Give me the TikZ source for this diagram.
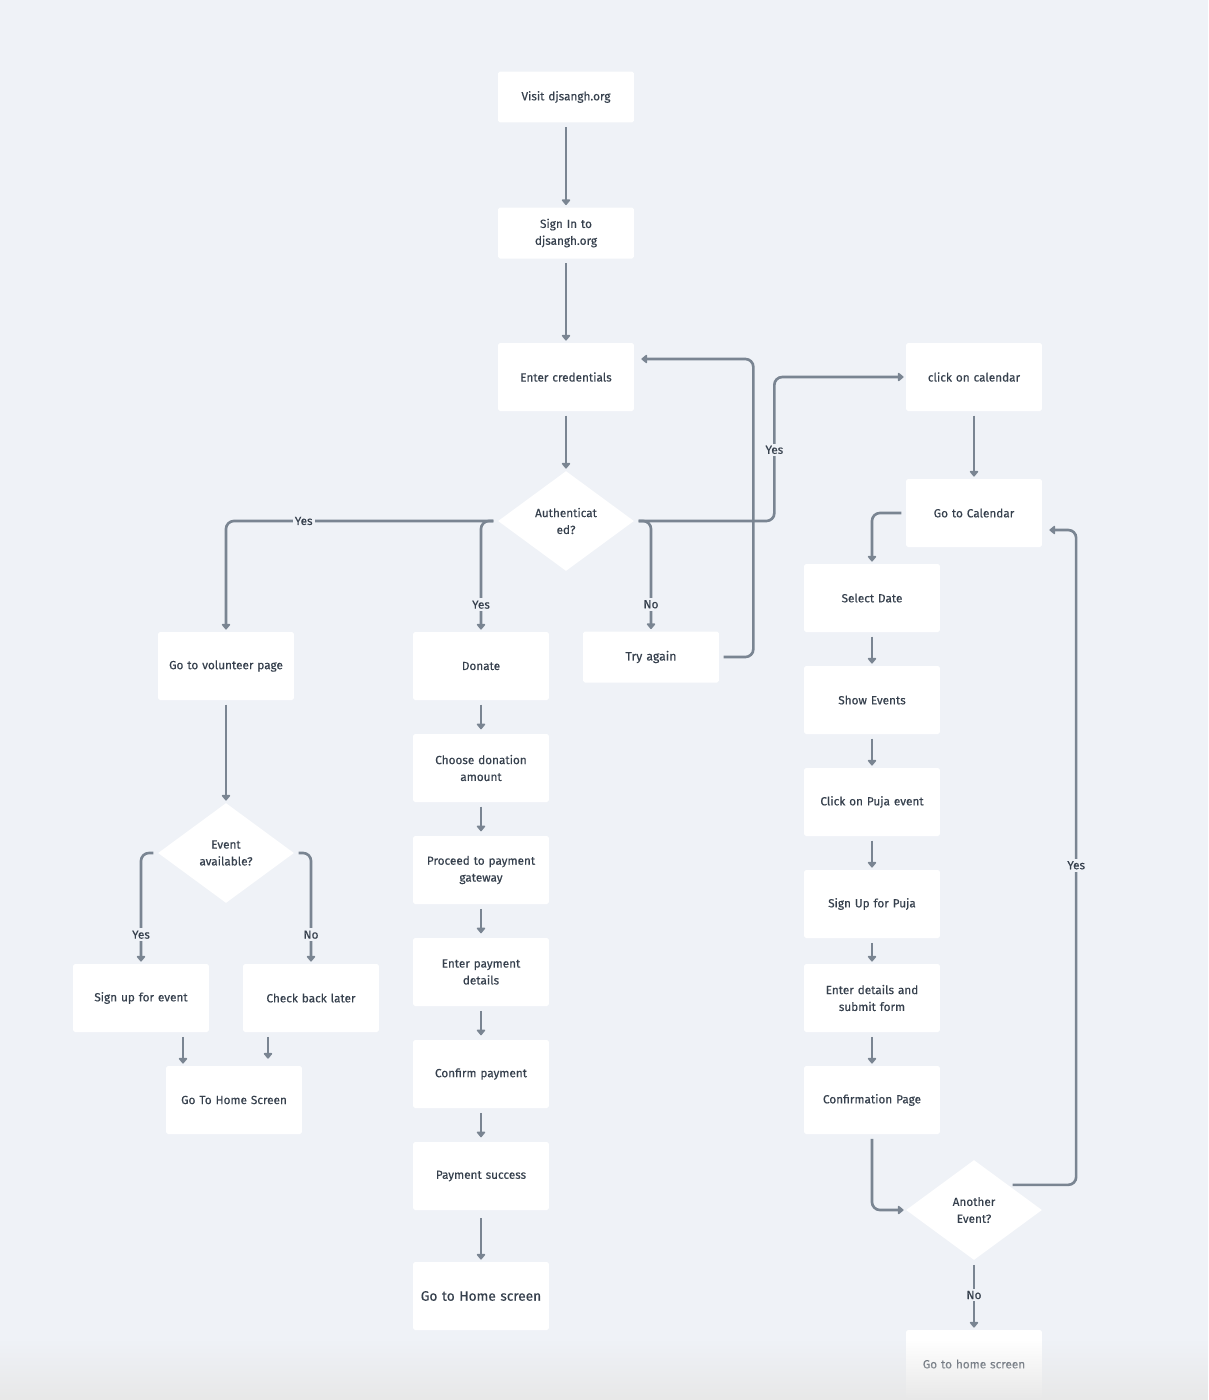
\documentclass[tikz,border=0pt]{standalone}
\usepackage{fontspec}
\setmainfont{Fira Sans}[FakeBold=0.35]
\usetikzlibrary{shapes.geometric,arrows.meta,calc,fadings}
\definecolor{bg}{HTML}{EFF2F7}
\definecolor{ln}{HTML}{7A8592}
\definecolor{tx}{HTML}{36404D}
\tikzfading[name=fadebot, top color=transparent!100, bottom color=transparent!0]
\begin{document}
\begin{tikzpicture}[x=0.02cm,y=-0.02cm,
 box/.style={fill=white, rounded corners=1pt, minimum width=2.72cm, minimum height=1.36cm, inner sep=2pt, align=center, text=tx, font=\fontsize{6.7}{9.6}\selectfont, text width=2.5cm},
 sbox/.style={box, minimum height=1.02cm},
 dia/.style={diamond, fill=white, minimum width=2.72cm, minimum height=2cm, inner sep=0pt, align=center, text=tx, font=\fontsize{6.7}{9.6}\selectfont, aspect=1.36},
 arr/.style={draw=ln, line width=1.5pt, rounded corners=4.5pt, -{Triangle[length=3.5pt,width=5.5pt,round]}, shorten <=2.5pt, shorten >=1.2pt},
 lbl/.style={fill=bg, text=tx, font=\fontsize{6.7}{8}\selectfont, inner sep=1.2pt, rounded corners=0pt}]
\fill[bg] (0,0) rectangle (1208,1400);
\useasboundingbox (0,0) rectangle (1208,1400);
% nodes
\node[sbox] (visit) at (566,97) {Visit djsangh.org};
\node[sbox] (signin) at (566,233) {Sign In to\\djsangh.org};
\node[box] (cred) at (566,377) {Enter credentials};
\node[dia] (auth) at (566,521) {Authenticat\\ed?};
\node[box] (cal) at (974,377) {click on calendar};
\node[box] (gocal) at (974,513) {Go to Calendar};
\node[box] (vol) at (226,666) {Go to volunteer page};
\node[box] (donate) at (481,666) {Donate};
\node[sbox, font=\fontsize{7}{9.6}\selectfont] (try) at (651,657) {Try again};
\node[box] (sel) at (872,598) {Select Date};
\node[box] (show) at (872,700) {Show Events};
\node[box] (puja) at (872,802) {Click on Puja event};
\node[box] (signp) at (872,904) {Sign Up for Puja};
\node[box] (details) at (872,998) {Enter details and\\submit form};
\node[box] (conf) at (872,1100) {Confirmation Page};
\node[dia] (another) at (974,1210) {Another\\Event?};
\node[box] (home3) at (974,1364) {Go to home screen};
\node[dia] (event) at (226,853) {Event\\available?};
\node[box] (signup) at (141,998) {Sign up for event};
\node[box] (check) at (311,998) {Check back later};
\node[box] (home1) at (234,1100) {Go To Home Screen};
\node[box] (amount) at (481,768) {Choose donation\\amount};
\node[box] (gateway) at (481,870) {Proceed to payment\\gateway};
\node[box] (paydet) at (481,972) {Enter payment\\details};
\node[box] (confirm) at (481,1074) {Confirm payment};
\node[box] (success) at (481,1176) {Payment success};
\node[box, font=\fontsize{7.8}{9}\selectfont] (home2) at (481,1296) {Go to Home screen};
% connectors
\draw[arr] (visit) -- (signin);
\draw[arr] (signin) -- (cred);
\draw[arr] (cred) -- (auth);
\draw[arr] (auth.west) -| node[lbl,pos=0.357]{Yes} (vol.north);
\draw[arr] (auth.west) -| node[lbl,pos=0.878]{Yes} (donate.north);
\draw[arr] (auth.east) -| node[lbl,pos=0.878]{No} (try.north);
\draw[arr] (auth.east) -- ($(auth.east)+(140,0)$) |- node[lbl,pos=0.247]{Yes} (cal.west);
\draw[arr] (try.east) -- ($(try.east)+(34,0)$) |- ($(cred.east)+(5,-18)$);
\draw[arr] (cal) -- (gocal);
\draw[arr] (gocal.west) -| (sel.north);
\draw[arr] (sel) -- (show);
\draw[arr] (show) -- (puja);
\draw[arr] (puja) -- (signp);
\draw[arr] (signp) -- (details);
\draw[arr] (details) -- (conf);
\draw[arr] (conf.south) |- (another.west);
\draw[arr] ($(another.east)!0.5!(another.north)$) -- ($(another.east)!0.5!(another.north)+(68,0)$) |- node[lbl,pos=0.244]{Yes} ($(gocal.east)+(5,17)$);
\draw[arr] (another) -- node[lbl]{No} (home3);
\draw[arr] (vol) -- (event);
\draw[arr] (event.west) -| node[lbl,pos=0.869]{Yes} (signup.north);
\draw[arr] (event.east) -| node[lbl,pos=0.869]{No} (check.north);
\draw[arr] ($(signup.south)+(42,0)$) -- ($(home1.north)+(-51,0)$);
\draw[arr, shorten >=4pt] ($(check.south)+(-43,0)$) -- ($(home1.north)+(34,0)$);
\draw[arr, shorten >=2.5pt] (donate) -- (amount);
\draw[arr, shorten >=2.5pt] (amount) -- (gateway);
\draw[arr, shorten >=2.5pt] (gateway) -- (paydet);
\draw[arr, shorten >=2.5pt] (paydet) -- (confirm);
\draw[arr, shorten >=2.5pt] (confirm) -- (success);
\draw[arr, shorten <=4.5pt] (success) -- (home2);
% bottom shade
\fill[black!9, path fading=fadebot] (0,1340) rectangle (1208,1400);
\end{tikzpicture}
\end{document}
